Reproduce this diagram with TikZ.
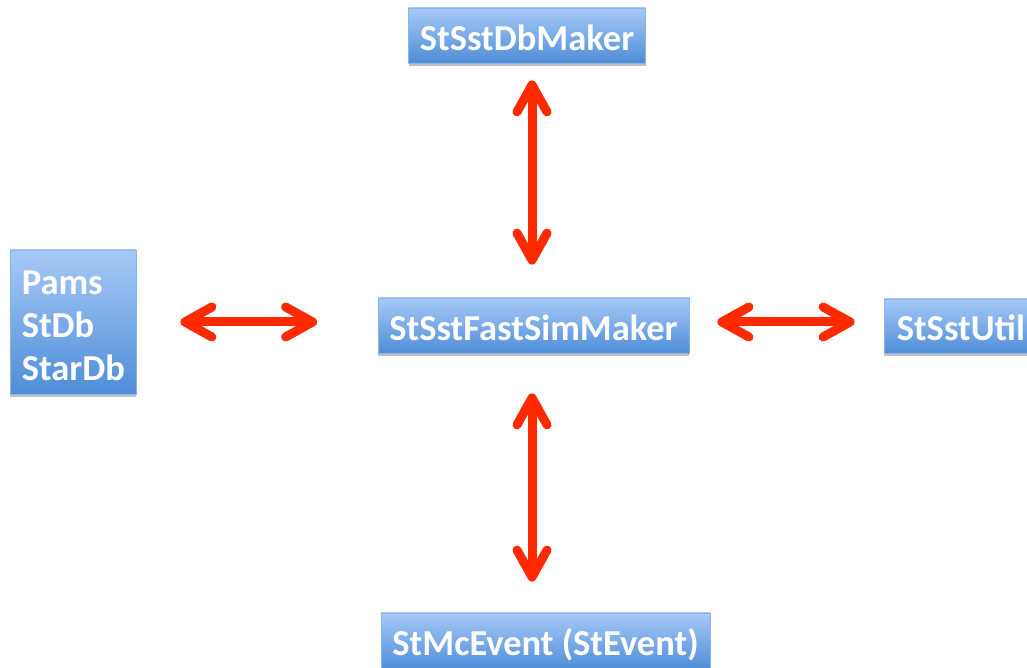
\documentclass[tikz,border=0pt]{standalone}
\usepackage{fontspec}
\setmainfont{Carlito}
\usetikzlibrary{arrows.meta,shadows}
\definecolor{boxtop}{HTML}{A6CAF7}
\definecolor{boxbot}{HTML}{4F8DD8}
\definecolor{boxline}{HTML}{8DB3E2}
\definecolor{arrowred}{HTML}{FF2A00}
\tikzset{
  box/.style={rectangle, draw=boxline, line width=0.8pt, top color=boxtop, bottom color=boxbot,
    drop shadow={shadow xshift=0pt, shadow yshift=-3pt, opacity=0.35, fill=black!70},
    text=white, font=\fontsize{36.5}{43}\selectfont\bfseries, inner sep=0pt,
    text height=29.5pt, text depth=0pt},
  txt/.style={text=white, font=\fontsize{36.5}{43}\selectfont\bfseries, inner sep=0pt},
  link/.style={draw=arrowred, line width=9pt, line cap=round,
    {Straight Barb[length=27pt, width=30pt, round]}-{Straight Barb[length=27pt, width=30pt, round]}}
}
\begin{document}
\begin{tikzpicture}[x=1pt,y=1pt]
\useasboundingbox[fill=white] (0,0) rectangle (1027,668);
\node[box, minimum width=237pt, minimum height=55pt] (db) at (527,632.5) {StSstDbMaker};
\node[box, minimum width=126pt, minimum height=144pt, text height=0pt] (pams) at (73,346) {};
\node[txt, anchor=west, align=left] (pamstxt) at ([xshift=12pt, yshift=-4pt]pams.west) {Pams\\StDb\\StarDb};
\node[box, minimum width=311pt, minimum height=55pt] (fast) at (533.5,342.5) {StSstFastSimMaker};
\node[box, minimum width=160pt, minimum height=54pt, text height=0pt] (util) at (964,342) {};
\node[txt, anchor=base west] (utiltxt) at ([xshift=13pt, yshift=-15pt]util.west) {StSstUtil};
\node[box, minimum width=329pt, minimum height=56pt] (mc) at (545.5,27) {StMcEvent (StEvent)};
\coordinate (hline) at (0,346);
\coordinate (vline) at (532,0);
\draw[link, shorten <=44pt, shorten >=60.5pt] (pams.east |- hline) -- (fast.west |- hline);
\draw[link, shorten <=28pt, shorten >=29pt] (fast.east |- hline) -- (util.west |- hline);
\draw[link, shorten <=17pt, shorten >=33pt] (db.south -| vline) -- (fast.north -| vline);
\draw[link, shorten <=40pt, shorten >=31pt] (fast.south -| vline) -- (mc.north -| vline);
\end{tikzpicture}
\end{document}
